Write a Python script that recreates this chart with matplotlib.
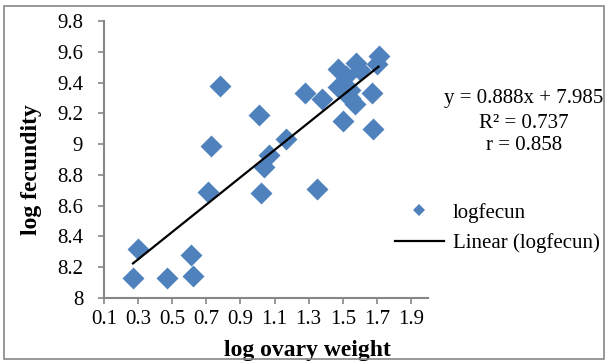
import matplotlib.pyplot as plt
from matplotlib.lines import Line2D
from matplotlib.patches import Rectangle
import numpy as np

plt.rcParams['font.family'] = ['Liberation Serif', 'DejaVu Serif']

# Data
log_ovary = [0.27, 0.30, 0.47, 0.61, 0.62, 0.71, 0.73, 0.78, 1.01, 1.02,
             1.04, 1.07, 1.17, 1.28, 1.35, 1.38, 1.47, 1.47, 1.50, 1.52,
             1.54, 1.54, 1.57, 1.58, 1.60, 1.67, 1.68, 1.70, 1.71]
log_fecun = [8.13, 8.32, 8.13, 8.28, 8.14, 8.69, 8.99, 9.38, 9.19, 8.68,
             8.85, 8.93, 9.03, 9.33, 8.71, 9.29, 9.49, 9.37, 9.15, 9.44,
             9.35, 9.30, 9.26, 9.53, 9.48, 9.33, 9.10, 9.52, 9.57]
slope = 0.888
intercept = 7.985
r_squared = 0.737
r_value = 0.858
x_ticks = [0.1, 0.3, 0.5, 0.7, 0.9, 1.1, 1.3, 1.5, 1.7, 1.9]
y_ticks = [8, 8.2, 8.4, 8.6, 8.8, 9, 9.2, 9.4, 9.6, 9.8]

blue = '#4F81BD'
grey = '#868686'
fs = 15

fig = plt.figure(figsize=(6.07, 3.62), dpi=100)
ax = fig.add_axes([104 / 607, 1 - 298 / 362, 324 / 607, 277 / 362])

ax.scatter(log_ovary, log_fecun, marker='D', s=125, color=blue, linewidths=0, zorder=2)

# trend line over the data range
xs = np.array([min(log_ovary), max(log_ovary)])
ax.plot(xs, slope * xs + intercept, color='black', lw=1.6, zorder=3)

ax.set_xlim(0.1, 2.0)
ax.set_ylim(8, 9.8)
ax.set_xticks(x_ticks)
ax.set_xticklabels([f'{v:.1f}' for v in x_ticks])
ax.set_yticks(y_ticks)
ax.set_yticklabels([f'{v:g}' for v in y_ticks])

for side in ['top', 'right']:
    ax.spines[side].set_visible(False)
for side in ['left', 'bottom']:
    ax.spines[side].set_color(grey)
    ax.spines[side].set_linewidth(1.5)
ax.tick_params(axis='both', colors=grey, labelcolor='black', labelsize=fs,
               length=4, width=1.2, direction='out')
ax.tick_params(axis='x', pad=5)
ax.tick_params(axis='y', pad=11)

ax.set_xlabel('log ovary weight', fontsize=17, fontweight='bold', va='center')
ax.xaxis.set_label_coords(0.627, -0.188)
ax.set_ylabel('log fecundity', fontsize=17, fontweight='bold', va='center')
ax.yaxis.set_label_coords(-0.225, 0.462)

# equation text
fig.text(524 / 607, 1 - 98 / 362, f'y = {slope}x + {intercept}', ha='center', va='center', fontsize=fs)
fig.text(524 / 607, 1 - 123 / 362, f'R² = {r_squared}', ha='center', va='center', fontsize=fs)
fig.text(524 / 607, 1 - 146 / 362, f'r = {r_value}', ha='center', va='center', fontsize=fs)

handles = [Line2D([], [], marker='D', color=blue, ms=6, lw=0, markeredgewidth=0),
           Line2D([], [], color='black', lw=1.6)]
fig.legend(handles, ['logfecun', 'Linear (logfecun)'], loc='center left',
           bbox_to_anchor=(395 / 607, 1 - 228 / 362), frameon=False, fontsize=fs,
           handlelength=2.35, handletextpad=0.42, labelspacing=0.5,
           borderpad=0, borderaxespad=0)

# outer chart border
fig.patches.append(Rectangle((4 / 607, 3 / 362), 600 / 607, 353 / 362,
                             transform=fig.transFigure, fill=False,
                             edgecolor=grey, lw=1.2))

fig.savefig('out.png', dpi=100)
